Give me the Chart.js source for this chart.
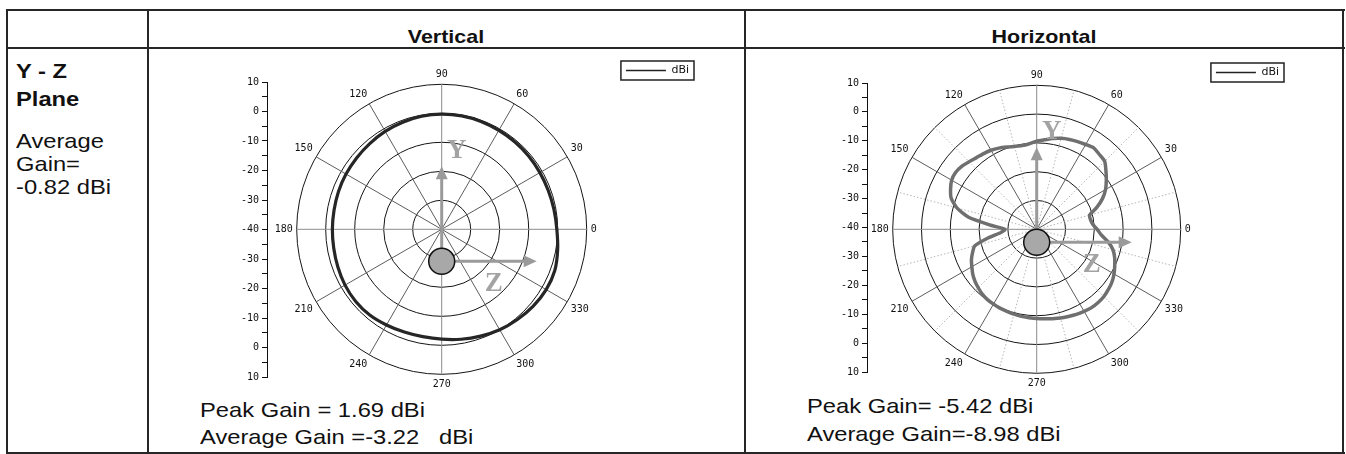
<!DOCTYPE html>
<html>
<head>
<meta charset="utf-8">
<script src="https://cdn.jsdelivr.net/npm/chart.js@4.4.1/dist/chart.umd.min.js"></script>
<style>
html, body { margin: 0; padding: 0; background: #fff; }
body { width: 1346px; height: 454px; position: relative; overflow: hidden; font-family: "Liberation Sans", Arial, sans-serif; color: #111; }
.ln { position: absolute; background: #262626; }
.t { position: absolute; white-space: pre; font-size: 21px; line-height: 21px; transform: scaleX(1.13); transform-origin: 0 0; }
.c { text-align: center; width: 400px; transform-origin: 50% 0; }
.b { font-weight: bold; }
canvas { position: absolute; }
</style>
</head>
<body>
<!-- table frame -->
<div class="ln" style="left:6px;top:9px;width:1339px;height:2px"></div>
<div class="ln" style="left:6px;top:47px;width:1339px;height:2px"></div>
<div class="ln" style="left:6px;top:452px;width:1339px;height:2px"></div>
<div class="ln" style="left:6px;top:9px;width:2px;height:445px"></div>
<div class="ln" style="left:147px;top:9px;width:2px;height:445px"></div>
<div class="ln" style="left:744px;top:9px;width:2px;height:445px"></div>
<div class="ln" style="left:1342px;top:9px;width:2px;height:445px"></div>

<div class="t c b" style="left:246px;top:27px;font-size:19px;line-height:19px">Vertical</div>
<div class="t c b" style="left:844px;top:27px;font-size:19px;line-height:19px">Horizontal</div>

<div class="t b" style="left:16px;top:60px">Y - Z</div>
<div class="t b" style="left:16px;top:88px">Plane</div>
<div class="t" style="left:16px;top:130px">Average</div>
<div class="t" style="left:16px;top:153px">Gain=</div>
<div class="t" style="left:16px;top:176px">-0.82 dBi</div>

<div class="t" style="left:200px;top:399px">Peak Gain = 1.69 dBi</div>
<div class="t" style="left:200px;top:426px">Average Gain =-3.22   dBi</div>
<div class="t" style="left:807px;top:395px">Peak Gain= -5.42 dBi</div>
<div class="t" style="left:807px;top:423px">Average Gain=-8.98 dBi</div>

<canvas id="vAxis" width="50" height="320" style="left:222px;top:70px"></canvas>
<canvas id="vPolar" width="476" height="345" style="left:268px;top:59px"></canvas>
<canvas id="hAxis" width="50" height="320" style="left:822px;top:70px"></canvas>
<canvas id="hPolar" width="474" height="345" style="left:866px;top:61px"></canvas>

<script>
// angle (deg) and gain (dBi)
const vAngles = [0, 10, 20, 30, 40, 50, 60, 70, 80, 90, 100, 110, 120, 130, 140, 150, 160, 170,
                 180, 190, 200, 210, 220, 230, 240, 250, 260, 270, 280, 290, 300, 310, 320, 330, 340, 350];
const vGain = [-0.3, -0.7, -0.9, -0.9, -0.8, -0.7, -0.6, -0.4, -0.3, -0.3, -0.4, -0.7, -1.0, -1.4, -1.7, -1.9, -2.1, -2.3,
               -2.3, -2.2, -1.9, -1.5, -1.3, -1.4, -1.9, -2.3, -2.4, -2.1, -1.5, -0.8, 0.0, 0.6, 1.2, 1.6, 1.5, 0.6];

const hAngles = [0, 5, 10, 15, 20, 25, 30, 35, 40, 45, 50, 55, 60, 65, 70, 75, 80, 85,
                 90, 95, 100, 105, 110, 115, 120, 125, 130, 135, 140, 145, 150, 155, 160, 165, 170, 175,
                 180, 185, 190, 195, 200, 205, 210, 215, 220, 225, 230, 235, 240, 245, 250, 255, 260, 265,
                 270, 275, 280, 285, 290, 295, 300, 305, 310, 315, 320, 325, 330, 335, 340, 345, 350, 355];
const hGain = [-19.0, -20.4, -21.0, -21.0, -17.8, -14.8, -12.4, -10.5, -8.6, -6.6, -6.1, -5.5, -6.0, -6.4, -6.8, -7.3, -8.0, -8.8,
               -9.4, -10.2, -10.5, -10.2, -9.6, -8.9, -8.3, -7.9, -7.5, -6.8, -6.0, -5.6, -5.9, -7.0, -8.4, -11.3, -16.0, -24.0,
               -29.0, -27.5, -23.0, -17.7, -16.3, -15.0, -14.0, -12.9, -12.0, -11.3, -10.6, -10.2, -10.0, -9.8, -9.7, -9.5, -9.3, -9.2,
               -9.0, -8.8, -8.5, -8.1, -7.8, -7.4, -7.1, -6.8, -6.8, -7.0, -7.5, -8.1, -9.0, -10.1, -11.2, -12.6, -14.8, -17.5];

const angleTicks = [0, 30, 60, 90, 120, 150, 180, 210, 240, 270, 300, 330];
const ringTicks = [-40, -30, -20, -10, 0, 10];
const axisTicks = [10, 0, -10, -20, -30, -40, -30, -20, -10, 0, 10];
const seriesName = 'dBi';

const tickFont = { family: 'DejaVu Sans Mono', size: 10 };

// radar runs clockwise, the pattern counter-clockwise from 0 at the right
function polarTable(angles, gain) {
  const key = a => (360 - a) % 360;
  const idx = angles.map((a, i) => i).sort((p, q) => key(angles[p]) - key(angles[q]));
  return { labels: idx.map(i => String(angles[i])), values: idx.map(i => gain[i]) };
}

const legendFrame = {
  id: 'legendFrame',
  afterDraw(chart) {
    const hb = chart.legend.legendHitBoxes[0];
    const c = chart.ctx;
    c.save();
    c.strokeStyle = '#222';
    c.lineWidth = 1.5;
    c.strokeRect(hb.left - 5, hb.top - 4, hb.width + 10, hb.height + 8);
    c.restore();
  }
};

// antenna sketch: Y / Z arrows and the grey device
function arrow(c, x0, y0, x1, y1) {
  const a = Math.atan2(y1 - y0, x1 - x0);
  c.beginPath();
  c.moveTo(x0, y0);
  c.lineTo(x1 - 10 * Math.cos(a), y1 - 10 * Math.sin(a));
  c.stroke();
  c.beginPath();
  c.moveTo(x1, y1);
  c.lineTo(x1 - 13 * Math.cos(a) + 6 * Math.sin(a), y1 - 13 * Math.sin(a) - 6 * Math.cos(a));
  c.lineTo(x1 - 13 * Math.cos(a) - 6 * Math.sin(a), y1 - 13 * Math.sin(a) + 6 * Math.cos(a));
  c.closePath();
  c.fill();
}

const antennaSketch = {
  id: 'antennaSketch',
  afterDatasetsDraw(chart, args, o) {
    const r = chart.scales.r;
    const x = r.xCenter, y = r.yCenter;
    const c = chart.ctx;
    c.save();
    c.strokeStyle = '#9a9a9a';
    c.fillStyle = '#9a9a9a';
    c.lineWidth = 3;
    arrow(c, x, y + o.dev - 12, x, y + o.yTip);
    arrow(c, x + 12, y + o.dev, x + 95, y + o.dev);
    c.font = 'bold 27px "Liberation Serif"';
    c.textAlign = 'center';
    c.textBaseline = 'middle';
    c.fillStyle = '#a3a3a3';
    c.fillText('Y', x + 15, y + o.yTip - 15);
    c.fillText('Z', x + o.zx, y + o.dev + 23);
    c.beginPath();
    c.arc(x, y + o.dev, 13, 0, Math.PI * 2);
    c.fillStyle = '#a8a8a8';
    c.fill();
    c.lineWidth = 1.5;
    c.strokeStyle = '#111';
    c.stroke();
    c.restore();
  }
};

function polarChart(id, angles, gain, look) {
  const t = polarTable(angles, gain);
  const angleAt = i => Number(t.labels[i]);
  return new Chart(document.getElementById(id), {
    type: 'radar',
    data: {
      labels: t.labels,
      datasets: [{
        label: seriesName,
        data: t.values,
        borderColor: look.color,
        borderWidth: look.width,
        pointRadius: 0,
        fill: false,
        tension: look.tension
      }]
    },
    options: {
      responsive: false,
      animation: false,
      layout: { padding: { right: look.padRight } },
      plugins: {
        legend: {
          position: 'right',
          align: 'start',
          labels: {
            usePointStyle: true,
            pointStyle: 'line',
            pointStyleWidth: 40,
            padding: 6,
            color: '#111',
            font: { family: 'DejaVu Sans', size: 11 },
            generateLabels: ch => Chart.defaults.plugins.legend.labels.generateLabels(ch)
              .map(l => Object.assign(l, { lineWidth: 1.5, strokeStyle: '#222' }))
          }
        },
        tooltip: { enabled: false },
        antennaSketch: look.deco
      },
      scales: {
        r: {
          min: ringTicks[0],
          max: ringTicks[ringTicks.length - 1],
          startAngle: 90,
          ticks: { display: false, stepSize: 10 },
          grid: { circular: true, color: '#151515', lineWidth: 1 },
          angleLines: {
            color: c => angleAt(c.index) % 90 === 0 ? '#8c8c8c' : angleAt(c.index) % 30 === 0 ? '#5c5c5c' : '#b4b4b4',
            lineWidth: c => angleAt(c.index) % 15 === 0 ? 1 : 0,
            borderDash: c => angleAt(c.index) % 30 === 0 ? [] : [1.5, 2]
          },
          pointLabels: {
            padding: 4,
            color: '#111',
            font: tickFont,
            callback: l => angleTicks.includes(Number(l)) ? l : ''
          },
          afterSetDimensions: s => {
            s.xCenter = look.cx;
            s.yCenter = look.cy;
            s.drawingArea = look.r;
          }
        }
      }
    },
    plugins: [legendFrame, antennaSketch]
  });
}

function axisChart(id, padTop, padBottom) {
  return new Chart(document.getElementById(id), {
    type: 'line',
    data: { labels: [], datasets: [] },
    options: {
      responsive: false,
      animation: false,
      layout: { padding: { top: padTop, bottom: padBottom, left: 0, right: 0 } },
      plugins: { legend: { display: false }, tooltip: { enabled: false } },
      scales: {
        x: { display: false },
        y: {
          position: 'left',
          min: -50,
          max: 50,
          afterFit: s => { s.width = 45; },
          ticks: {
            stepSize: 5,
            autoSkip: false,
            padding: 3,
            color: '#111',
            font: tickFont,
            callback: v => v % 10 === 0 ? String(axisTicks[(50 - v) / 10]) : ''
          },
          grid: { drawOnChartArea: false, tickLength: 5, tickColor: '#111' },
          border: { color: '#111', width: 1 }
        }
      }
    }
  });
}

axisChart('vAxis', 12, 13);
axisChart('hAxis', 13, 18);

polarChart('vPolar', vAngles, vGain, {
  cx: 173.7, cy: 170.3, r: 145, padRight: 45,
  color: '#262626', width: 3.2, tension: 0.3,
  deco: { dev: 32, yTip: -63, zx: 52 }
});
polarChart('hPolar', hAngles, hGain, {
  cx: 170.7, cy: 168.3, r: 144, padRight: 51,
  color: '#6f6f6f', width: 3.5, tension: 0.2,
  deco: { dev: 13, yTip: -82, zx: 55 }
});
</script>
</body>
</html>
